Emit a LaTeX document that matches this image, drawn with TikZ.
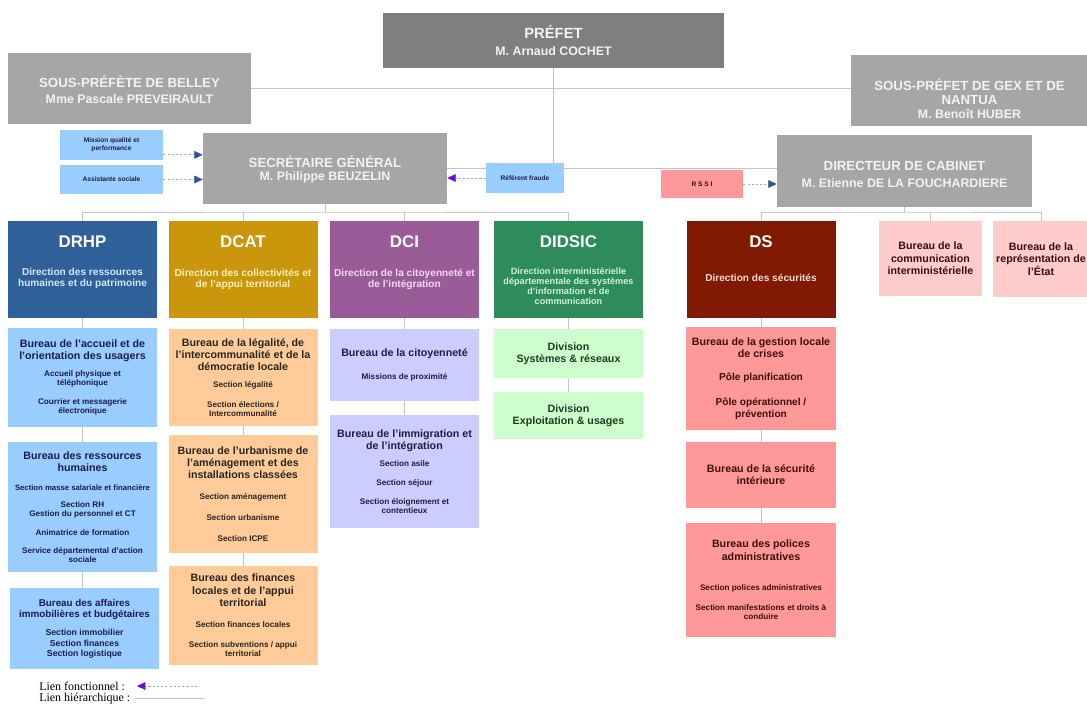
\documentclass[tikz,border=0pt]{standalone}
\usepackage{fontspec}
\setmainfont{Liberation Sans}
\newfontfamily\legendfont{Liberation Serif}
\usetikzlibrary{positioning, arrows.meta}
\setlength{\parindent}{0pt}

% couleurs
\definecolor{prefgray}{HTML}{7F7F7F}
\definecolor{sousgray}{HTML}{A6A6A6}
\definecolor{graytxt}{HTML}{F2F2F2}
\definecolor{lienclr}{HTML}{C4C4C4}
\definecolor{dashclr}{HTML}{A8A8A8}
\definecolor{fnblue}{HTML}{2F5597}
\definecolor{fnviolet}{HTML}{6A0DD8}
\definecolor{drhpblue}{HTML}{30609A}
\definecolor{dcatgold}{HTML}{C9960C}
\definecolor{dcipurple}{HTML}{9A5C98}
\definecolor{didsicgreen}{HTML}{2E8C5A}
\definecolor{dsred}{HTML}{801A02}
\definecolor{drhpsub}{HTML}{D2E6FF}
\definecolor{dcatsub}{HTML}{FFF0B8}
\definecolor{dcisub}{HTML}{F6DAF4}
\definecolor{didsicsub}{HTML}{CDF2DC}
\definecolor{dssub}{HTML}{FFDCCF}
\definecolor{blueb}{HTML}{99CCFF}
\definecolor{orangeb}{HTML}{FFCC99}
\definecolor{purpleb}{HTML}{CCCCFF}
\definecolor{greenb}{HTML}{CCFFCC}
\definecolor{redb}{HTML}{FF9999}
\definecolor{pinkb}{HTML}{FFCCCC}
\definecolor{bluetxt}{HTML}{1C1C4A}
\definecolor{orangetxt}{HTML}{2A2420}
\definecolor{purpletxt}{HTML}{1E1E42}
\definecolor{greentxt}{HTML}{1E3A24}
\definecolor{redtxt}{HTML}{3E0C0C}

\pgfdeclarelayer{bg}
\pgfsetlayers{bg,main}

\newcommand\who[1]{{\bfseries\fontsize{8.8}{10}\selectfont #1}}
\newcommand\bhd{\fontsize{7.6}{8.6}\selectfont}
\newcommand\bsec{\fontsize{5.8}{6.5}\selectfont}

\begin{document}
\begin{tikzpicture}[x=0.025cm, y=-0.025cm,
  every node/.style={inner sep=0pt, align=center},
  wh/.style 2 args={minimum width=#1*0.025cm, minimum height=#2*0.025cm},
  chief/.style={fill=sousgray, text=graytxt, font=\bfseries\fontsize{9.4}{11}\selectfont},
  smallbox/.style={fill=blueb, text=bluetxt, font=\bfseries\fontsize{4.7}{5.4}\selectfont},
  dirbox/.style={wh={149}{97}},
  dirname/.style={text=white, font=\bfseries\fontsize{12}{14}\selectfont},
  dirtext/.style={font=\bfseries\fontsize{7.2}{7.8}\selectfont},
  subbox/.style={text width=3.7cm, align=flush center, font=\bfseries},
  rhbox/.style={subbox, fill=blueb, text=bluetxt},
  ctbox/.style={subbox, fill=orangeb, text=orangetxt},
  cibox/.style={subbox, fill=purpleb, text=purpletxt},
  sibox/.style={subbox, fill=greenb, text=greentxt},
  sebox/.style={subbox, fill=redb, text=redtxt},
  pinkbox/.style={fill=pinkb, text=redtxt, font=\bfseries\fontsize{7.6}{8.9}\selectfont},
  legendtxt/.style={font=\legendfont\fontsize{8.5}{10}\selectfont},
  hlink/.style={draw=lienclr, line width=0.6pt},
  fnlink/.style={draw=dashclr, line width=0.5pt, dash pattern=on 1.5pt off 1.5pt},
]
\useasboundingbox (0,0) rectangle (1087,704);
\clip (0,0) rectangle (1087,704);

% direction generale
\node[chief, fill=prefgray, wh={341}{55}, font=\bfseries\fontsize{10.5}{12}\selectfont] (prefet) at (553.5,40.5) {PRÉFET\\ \who{M. Arnaud COCHET}};
\node[chief, wh={243}{71}] (belley) at (129.5,88.5) {\rule{0pt}{10pt}SOUS-PRÉFÈTE DE BELLEY\\ \who{Mme Pascale PREVEIRAULT}};
\node[chief, wh={237}{71}] (gex) at (969.5,90.5) {\rule{0pt}{20pt}SOUS-PRÉFET DE GEX ET DE\\[-1pt] NANTUA\\[-1pt] \who{M. Benoît HUBER}};
\node[chief, wh={244}{71}] (sg) at (325,168.5) {\rule{0pt}{10pt}SECRÉTAIRE GÉNÉRAL\\[-1.5pt] \who{M. Philippe BEUZELIN}};
\node[chief, wh={255}{72}] (dc) at (904.5,171) {\rule{0pt}{11pt}DIRECTEUR DE CABINET\\[1pt] \who{M. Etienne DE LA FOUCHARDIERE}};

\node[smallbox, wh={103}{30}] (mq) at (111.5,145) {Mission qualité et\\ performance};
\node[smallbox, wh={103}{29}] (as) at (111.5,179.5) {Assistante sociale};
\node[smallbox, wh={78}{30}] (rf) at (525,178) {Référent fraude};
\node[smallbox, fill=redb, text=redtxt, wh={82}{28}] (rssi) at (702,184) {R S S I};

% directions
\node[dirbox, fill=drhpblue] (drhp) at (82.5,269.5) {};
\node[dirname, below=10.5pt of drhp.north] (drhpT) {DRHP};
\node[dirtext, text=drhpsub, below=14.5pt of drhpT] (drhpS) {Direction des ressources\\ humaines et du patrimoine};

\node[dirbox, fill=dcatgold] (dcat) at (243,269.5) {};
\node[dirname, below=10.5pt of dcat.north] (dcatT) {DCAT};
\node[dirtext, text=dcatsub, below=14.5pt of dcatT] (dcatS) {Direction des collectivités et\\ de l'appui territorial};

\node[dirbox, fill=dcipurple] (dci) at (404.5,269.5) {};
\node[dirname, below=10.5pt of dci.north] (dciT) {DCI};
\node[dirtext, text=dcisub, below=14.5pt of dciT] (dciS) {Direction de la citoyenneté et\\ de l'intégration};

\node[dirbox, fill=didsicgreen] (didsic) at (568.5,269.5) {};
\node[dirname, below=10.5pt of didsic.north] (didsicT) {DIDSIC};
\node[dirtext, text=didsicsub, font=\bfseries\fontsize{6.5}{7.1}\selectfont, below=14pt of didsicT] (didsicS) {Direction interministérielle\\ départementale des systèmes\\ d'information et de\\ communication};

\node[dirbox, fill=dsred] (ds) at (761,269.5) {};
\node[dirname, below=10.5pt of ds.north] (dsT) {DS};
\node[dirtext, text=dssub, below=18pt of dsT] (dsS) {Direction des sécurités};

\node[pinkbox, wh={103}{75}] (bcom) at (930.5,258.5) {Bureau de la\\ communication\\ interministérielle};
\node[pinkbox, wh={96}{76}] (brep) at (1041,259) {Bureau de la\\ représentation de\\ l'État};

% bureaux DRHP
\node[rhbox, wh={149}{99}] (rh1) at (82.5,377.5) {\bhd Bureau de l'accueil et de\\ l'orientation des usagers\par\vspace{6pt}\bsec Accueil physique et\\ téléphonique\par\vspace{7pt}Courrier et messagerie\\ électronique\par};
\node[rhbox, wh={149}{130}] (rh2) at (82.5,507) {\bhd Bureau des ressources\\ humaines\par\vspace{7.5pt}\bsec {\fontsize{5.5}{6.5}\selectfont Section masse salariale et financière\par}\vspace{5.5pt}Section RH\\ Gestion du personnel et CT\par\vspace{6.5pt}Animatrice de formation\par\vspace{6.5pt}Service départemental d'action\\ sociale\par};
\node[rhbox, wh={145}{81}] (rh3) at (84.5,628.5) {\fontsize{7}{8}\selectfont Bureau des affaires\\ immobilières et budgétaires\par\vspace{6pt}\fontsize{6.2}{7.2}\selectfont Section immobilier\\ Section finances\\ Section logistique\par};

% bureaux DCAT
\node[ctbox, wh={149}{97}] (ct1) at (243,377.5) {\bhd Bureau de la légalité, de\\ l'intercommunalité et de la\\ démocratie locale\par\vspace{5.5pt}\bsec Section légalité\par\vspace{7.5pt}Section élections /\\ Intercommunalité\par};
\node[ctbox, wh={149}{118}] (ct2) at (243,494) {\bhd Bureau de l'urbanisme de\\ l'aménagement et des\\ installations classées\par\vspace{8.5pt}\bsec Section aménagement\par\vspace{8.5pt}Section urbanisme\par\vspace{8.5pt}Section ICPE\par};
\node[ctbox, wh={149}{99}] (ct3) at (243,615.5) {\bhd Bureau des finances\\ locales et de l'appui\\ territorial\par\vspace{9pt}\bsec Section finances locales\par\vspace{7.5pt}Section subventions / appui\\ territorial\par};

% bureaux DCI
\node[cibox, wh={149}{72}] (ci1) at (404.5,365) {\bhd Bureau de la citoyenneté\par\vspace{10pt}\bsec Missions de proximité\par};
\node[cibox, wh={149}{113}] (ci2) at (404.5,471.5) {\bhd Bureau de l'immigration et\\ de l'intégration\par\vspace{5.5pt}\bsec Section asile\par\vspace{7pt}Section séjour\par\vspace{7pt}Section éloignement et\\ contentieux\par};

% divisions DIDSIC
\node[sibox, wh={149}{49}] (si1) at (568.5,353.5) {\bhd Division\\ Systèmes \& réseaux\par};
\node[sibox, wh={149}{47}] (si2) at (568.5,415.5) {\bhd Division\\ Exploitation \& usages\par};

% bureaux DS
\node[sebox, wh={150}{103}] (se1) at (761,378.5) {\bhd Bureau de la gestion locale\\ de crises\par\vspace{8pt}\fontsize{7.2}{8.4}\selectfont Pôle planification\par\vspace{9pt}Pôle opérationnel /\\ prévention\par};
\node[sebox, wh={150}{66}] (se2) at (761,475) {\bhd Bureau de la sécurité\\ intérieure\par};
\node[sebox, wh={150}{114}] (se3) at (761,580) {\bhd Bureau des polices\\ administratives\par\vspace{15pt}\bsec Section polices administratives\par\vspace{8pt}Section manifestations et droits à\\ conduire\par};

% legende
\node[legendtxt, anchor=west] (lfn) at (39,686) {Lien fonctionnel :};
\node[legendtxt, anchor=west] (lhn) at (39,699) {Lien hiérarchique :};
\coordinate (lfa) at (197,686);
\coordinate (lfb) at (137,686);
\coordinate (lha) at (135,698);
\coordinate (lhb) at (205,698);
\coordinate (sgbar) at (325,212);
\coordinate (dcbar) at (904.5,212);
\coordinate (mqout) at ([yshift=-7pt]mq.east);

% liens hierarchiques
\begin{pgfonlayer}{bg}
\draw[hlink] (belley.east) -- (belley.east -| gex.west);
\draw[hlink] (prefet.south) -- (prefet.south |- sg.east);
\draw[hlink] (sg.east) -- (sg.east -| dc.west);
\draw[hlink] (sg.south) -- (sgbar);
\draw[hlink] (drhp.north) |- (sgbar) -| (didsic.north);
\draw[hlink] (dcat.north) -- (dcat.north |- sgbar);
\draw[hlink] (dci.north) -- (dci.north |- sgbar);
\draw[hlink] (dc.south) -- (dcbar);
\draw[hlink] (ds.north) |- (dcbar) -| (brep.north);
\draw[hlink] (bcom.north) -- (bcom.north |- dcbar);
\draw[hlink] (drhp) -- (rh1) -- (rh2);
\draw[hlink] (rh2.south) -- (rh2.south |- rh3.north);
\draw[hlink] (dcat) -- (ct1) -- (ct2) -- (ct3);
\draw[hlink] (dci) -- (ci1) -- (ci2);
\draw[hlink] (didsic) -- (si1) -- (si2);
\draw[hlink] (ds) -- (se1) -- (se2) -- (se3);
\draw[hlink] (lha) -- (lhb);
\end{pgfonlayer}

% liens fonctionnels
\draw[fnlink, -{Triangle[color=fnblue, length=6pt, width=5.5pt]}] (mqout) -- (mqout -| sg.west);
\draw[fnlink, -{Triangle[color=fnblue, length=6pt, width=5.5pt]}] (as.east) -- (as.east -| sg.west);
\draw[fnlink, -{Triangle[color=fnviolet, length=6pt, width=5.5pt]}] (rf.west) -- (rf.west -| sg.east);
\draw[fnlink, -{Triangle[color=fnblue, length=6pt, width=5.5pt]}] (rssi.east) -- (rssi.east -| dc.west);
\draw[fnlink, -{Triangle[color=fnviolet, length=6pt, width=5.5pt]}] (lfa) -- (lfb);
\end{tikzpicture}
\end{document}
